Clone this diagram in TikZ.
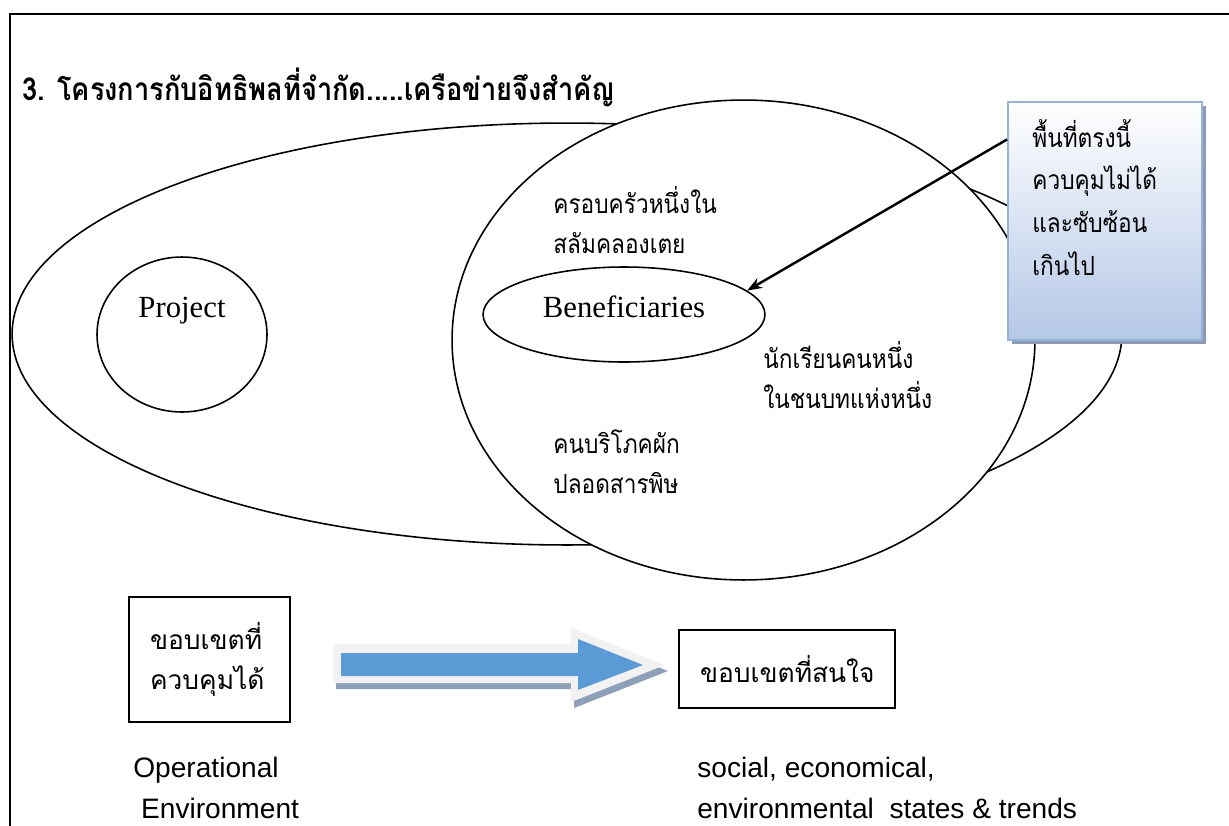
\documentclass[tikz,border=0pt]{standalone}
\usepackage{fontspec}
\setmainfont{Liberation Serif}
\setsansfont{Liberation Sans}
\newfontfamily\thaifont[Script=Thai]{Loma}
\newfontfamily\thaicond[Script=Thai,FakeStretch=0.86]{Loma}
\usepackage{tikz}
\usetikzlibrary{shapes.geometric, positioning, arrows.meta, calc, shadows}
\definecolor{noteblue}{HTML}{B4C7E7}
\definecolor{noteedge}{HTML}{95B3D7}
\definecolor{noteshadow}{HTML}{8C9BB3}
\definecolor{arrowblue}{HTML}{5B9BD5}
\definecolor{arrowrim}{HTML}{F2F2F2}
\definecolor{arrowshadow}{HTML}{8EA0B8}
\tikzset{thaitext/.style={font=\thaicond\fontsize{15}{22.7}\selectfont,
                anchor=base west,align=left,inner sep=0pt}}

\begin{document}
\begin{tikzpicture}[x=0.02cm,y=-0.02cm,>={Stealth[length=0.3cm,width=0.22cm]},black,
                oval/.style={ellipse,draw=black,line width=0.9pt,inner sep=0pt},
                scopebox/.style={draw=black,line width=1.1pt,align=left,inner ysep=0pt,
                font=\thaifont\fontsize{15}{22.7}\selectfont,inner xsep=0.42cm},
                engword/.style={font=\fontsize{17.5}{20}\selectfont,inner sep=0pt},
                sanstext/.style={font=\sffamily\fontsize{16}{23}\selectfont,
                anchor=base west,align=left,inner sep=0pt}]
                \useasboundingbox (0,0) rectangle (1229,825);
                \draw[line width=1.1pt] (10,840) -- (10,14) -- (1240,14);
                \node[anchor=base west,inner sep=0pt,
                font=\thaicond\bfseries\fontsize{18}{20}\selectfont] (title) at (22,100)
                {3. โครงการกับอิทธิพลที่จำกัด.....เครือข่ายจึงสำคัญ};
                % the ovals
                \node[oval,minimum width=22.2cm,minimum height=8.44cm] (environment) at (567,334) {};
                \node[oval,fill=white,minimum width=11.66cm,minimum height=9.6cm] (interest) at (743.5,340) {};
                \node[oval,minimum width=3.4cm,minimum height=3.1cm,
                label={[engword,yshift=0.474cm]center:Project}] (project) at (182,334.5) {};
                \node[oval,minimum width=5.64cm,minimum height=1.9cm,
                label={[engword,yshift=0.15cm]center:Beneficiaries}] (benef) at (624,314.5) {};
                \node[thaitext] (family) at (553,253) {ครอบครัวหนึ่งใน\\สลัมคลองเตย};
                \node[thaitext] (student) at (763,408) {นักเรียนคนหนึ่ง\\ในชนบทแห่งหนึ่ง};
                \node[thaitext] (consumer) at (553,493) {คนบริโภคผัก\\ปลอดสารพิษ};
                % the note
                \node[draw=noteedge,line width=1.1pt,top color=white,bottom color=noteblue,
                minimum width=3.88cm,minimum height=4.76cm,
                drop shadow={shadow xshift=0.08cm,shadow yshift=-0.08cm,fill=noteshadow,opacity=1}]
                (note) at (1105,221) {};
                \node[thaitext,font=\thaicond\fontsize{15}{24.2}\selectfont] (notetext) at (1032,275)
                {พื้นที่ตรงนี้\\ควบคุมไม่ได้\\และซับซ้อน\\เกินไป};
                \draw[->,line width=1.4pt] ($(note.north west)!0.16!(note.south west)$) -- (benef.11);
                % scope boxes
                \node[scopebox,text width=2.38cm,minimum height=2.5cm] (control) at (209.5,659.5)
                {ขอบเขตที่\\ควบคุมได้};
                \node[scopebox,text width=3.48cm,minimum height=1.56cm] (concern) at (787,669)
                {ขอบเขตที่สนใจ};
                \fill[arrowshadow] (336,650) -- (574,650) -- (574,634) -- (668,671) -- (574,708)
                -- (574,689) -- (336,689) -- cycle;
                \fill[arrowrim] (333,644) -- (571,644) -- (571,628) -- (665,665) -- (571,702)
                -- (571,683) -- (333,683) -- cycle;
                \fill[arrowblue] (341,653) -- (578,653) -- (578,639) -- (643,665) -- (578,690)
                -- (578,676) -- (341,676) -- cycle;
                \node[sanstext] (operational) at (133,818) {Operational\\~Environment};
                \node[sanstext] (trends) at (697,818) {social, economical,\\environmental\ \ states \& trends};
\end{tikzpicture}
\end{document}
